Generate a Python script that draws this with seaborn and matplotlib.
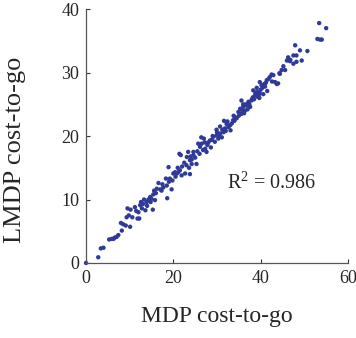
import matplotlib
matplotlib.use("Agg")
import matplotlib.pyplot as plt
import seaborn as sns
import pandas as pd

mdp_cost = [0, 2.8, 3.4, 4.0, 5.3, 5.9, 6.3, 6.6, 7.0, 7.4, 8.2, 8.0, 8.5, 9.1, 10.1, 9.3, 9.8, 9.5, 10.2, 11.2,
            11.8, 12.2, 11.5, 12.4, 13.1, 13.3, 13.9, 14.3, 14.7, 15.0, 15.3, 13.6, 15.4, 15.8, 16.2, 16.6, 17.3, 17.7,
            18.5, 18.6, 18.3, 18.9, 19.2, 19.6, 20.0, 20.4, 20.8, 21.1, 21.5, 21.9, 21.4, 21.7, 22.7, 23.8, 23.1, 23.4,
            23.8, 24.2, 24.6, 25.0, 24.2, 25.3, 24.6, 25.7, 26.1, 26.5, 27.3, 27.6, 27.0, 28.4, 29.2, 29.9, 29.5, 30.3,
            30.7, 31.5, 31.1, 31.8, 32.6, 33.0, 33.1, 32.2, 30.7, 29.9, 33.7, 34.1, 34.9, 35.6, 36.0, 36.4, 36.8, 35.6,
            35.3, 37.2, 37.6, 37.9, 38.2, 38.7, 39.1, 39.5, 39.8, 39.7, 38.3, 39.1, 39.8, 40.2, 40.8, 41.4, 41.8, 42.1,
            42.5, 42.9, 43.3, 43.7, 44.0, 44.4, 44.3, 41.5, 45.2, 46.0, 46.3, 46.7, 47.5, 47.9, 48.2, 47.5, 48.2, 49.4,
            50.7, 53.0, 53.6, 54.0, 53.4, 55.0,
            20.5, 21.0, 22.0, 22.5, 23.0, 26.0, 26.8, 27.8, 28.0, 28.8, 29.0, 30.0, 30.5, 31.2, 32.0, 32.4, 33.4, 34.0,
            34.5, 35.0, 35.8, 36.2, 36.6, 37.0, 37.4, 38.0, 38.5, 38.8, 39.3, 39.6, 40.0, 40.4, 40.6, 41.0, 41.2, 42.6,
            16.0, 17.0, 17.5, 19.0, 19.8, 14.0, 14.8, 12.8, 12.0, 10.6, 44.8, 45.6, 46.8, 49.0, 27.2, 25.5, 24.0, 23.6,
            31.6, 33.8, 26.4, 28.6, 36.0, 12.6, 15.6]
lmdp_cost = [0, 0.9, 2.3, 2.4, 3.7, 3.8, 3.8, 4.0, 4.1, 4.4, 5.1, 6.3, 6.1, 5.9, 5.7, 7.2, 7.5, 8.6, 8.4, 8.8,
             7.0, 7.0, 8.2, 9.1, 9.3, 10.0, 9.6, 10.0, 10.4, 10.1, 8.4, 8.3, 10.8, 9.9, 11.7, 12.6, 11.4, 11.9,
             12.2, 10.2, 13.3, 15.1, 13.3, 11.6, 14.1, 14.3, 14.1, 14.3, 14.6, 13.8, 17.2, 17.0, 14.1, 14.0, 16.7, 17.5,
             16.2, 16.3, 17.0, 16.6, 15.6, 15.6, 17.5, 18.8, 18.3, 18.8, 18.0, 17.5, 19.6, 19.3, 19.9, 20.1, 19.1, 19.6,
             20.4, 20.6, 19.8, 21.2, 21.4, 21.7, 20.9, 21.9, 21.5, 21.0, 22.5, 23.0, 23.8, 23.5, 24.6, 24.0, 24.8, 25.6,
             24.3, 25.4, 24.6, 25.6, 26.1, 26.4, 26.9, 26.4, 26.7, 26.0, 27.2, 27.6, 28.5, 28.0, 28.2, 28.8, 29.0, 29.3,
             29.7, 29.6, 28.5, 28.2, 28.3, 29.8, 29.9, 27.1, 31.0, 31.9, 32.4, 31.8, 32.7, 34.3, 32.7, 31.4, 31.7, 31.9,
             33.4, 35.3, 35.2, 35.2, 37.8, 37.0,
             13.6, 15.0, 15.2, 15.8, 15.4, 17.2, 17.8, 18.6, 19.0, 19.4, 20.0, 20.6, 20.2, 21.0, 20.8, 22.3, 22.0, 22.4,
             22.8, 23.2, 24.0, 23.6, 25.0, 24.2, 25.0, 25.8, 25.8, 26.8, 26.2, 27.0, 27.3, 27.6, 26.6, 27.8, 28.4, 28.6,
             11.0, 11.6, 12.4, 12.8, 13.0, 9.0, 9.6, 8.6, 8.0, 7.2, 30.4, 30.4, 32.0, 33.5, 19.0, 17.6, 16.8, 15.0,
             22.4, 23.2, 19.8, 18.2, 25.0, 9.6, 11.4]

x_ticks = [0, 20, 40, 60]
y_ticks = [0, 10, 20, 30, 40]
r2_label = "R$^{2}$ = 0.986"

df = pd.DataFrame({"MDP": mdp_cost, "LMDP": lmdp_cost})

sns.set_style("ticks")
plt.rcParams['font.family'] = ['Liberation Serif', 'DejaVu Serif']
plt.rcParams['mathtext.fontset'] = 'custom'
plt.rcParams['mathtext.rm'] = 'Liberation Serif'

fig = plt.figure(figsize=(3.56, 3.38), dpi=100)
ax = fig.add_axes([0.2416, 0.222, 0.7359, 0.751])
sns.scatterplot(data=df, x="MDP", y="LMDP", ax=ax, s=10, color="#2F3A98",
                edgecolor="none", linewidth=0, legend=False, clip_on=False)
ax.set_xlim(0, 60)
ax.set_ylim(0, 40)
ax.set_xticks(x_ticks)
ax.set_yticks(y_ticks)
ax.set_xticklabels([str(t) for t in x_ticks], fontsize=13)
ax.set_yticklabels([str(t) for t in y_ticks], fontsize=13)
ax.tick_params(direction="in", length=3, width=0.8, color="#333333", pad=5)
for s in ["top", "right"]:
    ax.spines[s].set_visible(False)
for s in ["left", "bottom"]:
    ax.spines[s].set_color("#555555")
    ax.spines[s].set_linewidth(0.9)
ax.set_xlabel("MDP cost-to-go", fontsize=17, labelpad=14)
ax.set_ylabel("LMDP cost-to-go", fontsize=19)
ax.yaxis.set_label_coords(-0.23, 0.445)
ax.text(32.4, 12.6, r2_label, fontsize=14.5, va="center", ha="left")
fig.savefig("out.png", dpi=100)
